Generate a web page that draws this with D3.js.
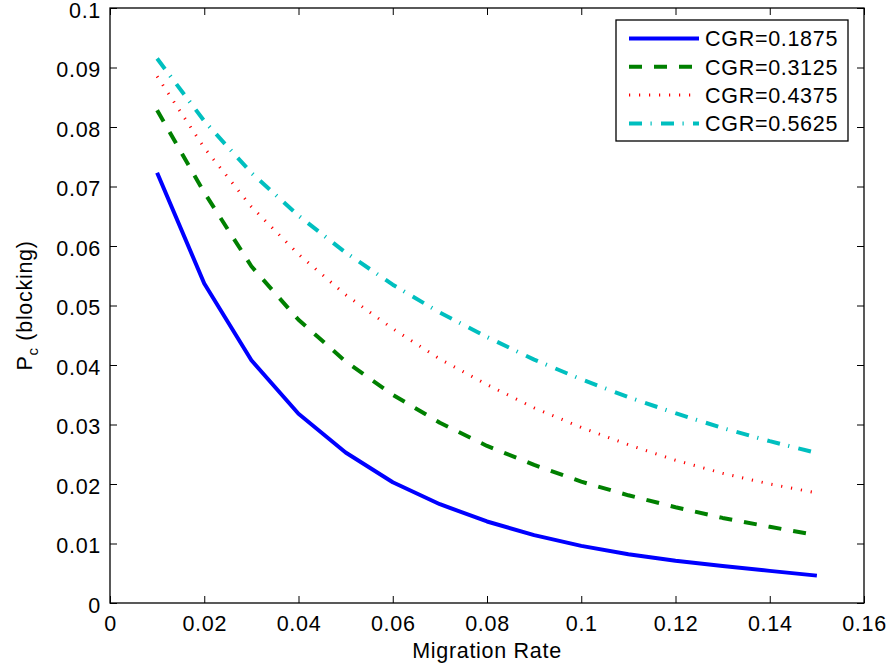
<!DOCTYPE html>
<html>
<head>
<meta charset="utf-8">
<script src="https://cdn.jsdelivr.net/npm/d3@7"></script>
<style>
  body { margin: 0; background: #fff; }
  svg { font-family: "Liberation Sans", Arial, sans-serif; }
</style>
</head>
<body>
<div id="chart"></div>
<script>
// migration rate (x) and blocking probability for each CGR
const rates = [0.01, 0.02, 0.03, 0.04, 0.05, 0.06, 0.07, 0.08, 0.09, 0.10, 0.11, 0.12, 0.13, 0.14, 0.15]
const cgr1875 = [0.0723, 0.0537, 0.0408, 0.0318, 0.0253, 0.0203, 0.0166, 0.0137, 0.0114, 0.0096, 0.0082, 0.0071, 0.0062, 0.0054, 0.0046]
const cgr3125 = [0.0828, 0.0690, 0.0566, 0.0476, 0.0406, 0.0350, 0.0303, 0.0264, 0.0232, 0.0204, 0.0181, 0.0161, 0.0143, 0.0128, 0.0114]
const cgr4375 = [0.0885, 0.0765, 0.0666, 0.0586, 0.0518, 0.0461, 0.0410, 0.0367, 0.0328, 0.0295, 0.0266, 0.0240, 0.0218, 0.0200, 0.0185]
const cgr5625 = [0.0915, 0.0810, 0.0723, 0.0651, 0.0589, 0.0535, 0.0488, 0.0447, 0.0409, 0.0376, 0.0346, 0.0319, 0.0294, 0.0272, 0.0252]
const seriesNames = ["CGR=0.1875", "CGR=0.3125", "CGR=0.4375", "CGR=0.5625"]
const xTicks = [0, 0.02, 0.04, 0.06, 0.08, 0.1, 0.12, 0.14, 0.16]
const yTicks = [0, 0.01, 0.02, 0.03, 0.04, 0.05, 0.06, 0.07, 0.08, 0.09, 0.1]

const styles = [
    {color: "#0000ff", width: 4, dash: null},
    {color: "#008000", width: 4, dash: "13,12"},
    {color: "#ff0000", width: 3, dash: "1.2,8.8"},
    {color: "#00bfbf", width: 4, dash: "13,8.5,1.2,9.3"}
]

const W = 891, H = 671
const margin = {left: 110, right: 27, top: 8, bottom: 68}
const fontSize = 21.5
const spacing = "0.7px"

let svg = d3.select("#chart").append("svg")
    .attr("width", W)
    .attr("height", H)

let x = d3.scaleLinear().domain([0, 0.16]).range([margin.left, W - margin.right])
let y = d3.scaleLinear().domain([0, 0.1]).range([H - margin.bottom, margin.top])

let series = [cgr1875, cgr3125, cgr4375, cgr5625].map((vals, i) => ({
    name: seriesNames[i],
    style: styles[i],
    points: rates.map((r, j) => [r, vals[j]])
}))

// axes: MATLAB style, ticks pointing inward on all four sides
let tickLen = 7
let fmt = d => String(+d.toFixed(2))
let xAxisB = d3.axisBottom(x).tickValues(xTicks).tickSize(-tickLen).tickPadding(13).tickFormat(fmt)
let xAxisT = d3.axisTop(x).tickValues(xTicks).tickSize(-tickLen).tickFormat("")
let yAxisL = d3.axisLeft(y).tickValues(yTicks).tickSize(-tickLen).tickPadding(9).tickFormat(fmt)
let yAxisR = d3.axisRight(y).tickValues(yTicks).tickSize(-tickLen).tickFormat("")

function styleAxis(g) {
    g.select(".domain").remove()
    g.selectAll(".tick line").attr("stroke", "#000").attr("stroke-width", 1)
    g.selectAll(".tick text").attr("fill", "#000").attr("font-size", fontSize)
        .attr("letter-spacing", spacing)
        .attr("font-family", "Liberation Sans, Arial, sans-serif")
}

svg.append("g").attr("transform", "translate(0," + y(0) + ")").call(xAxisB).call(styleAxis)
svg.append("g").attr("transform", "translate(0," + y(0.1) + ")").call(xAxisT).call(styleAxis)
let gy = svg.append("g").attr("transform", "translate(" + x(0) + ",0)").call(yAxisL).call(styleAxis)
svg.append("g").attr("transform", "translate(" + x(0.16) + ",0)").call(yAxisR).call(styleAxis)
gy.selectAll(".tick text").attr("dy", "0.42em")

// the box
svg.append("rect")
    .attr("x", x(0))
    .attr("y", y(0.1))
    .attr("width", x(0.16) - x(0))
    .attr("height", y(0) - y(0.1))
    .attr("fill", "none")
    .attr("stroke", "#000")
    .attr("stroke-width", 1.3)

let line = d3.line().x(d => x(d[0])).y(d => y(d[1]))

svg.append("g").attr("class", "lines")
    .selectAll("path")
    .data(series)
    .join("path")
    .attr("d", d => line(d.points))
    .attr("fill", "none")
    .attr("stroke", d => d.style.color)
    .attr("stroke-width", d => d.style.width)
    .attr("stroke-dasharray", d => d.style.dash)
    .attr("stroke-linejoin", "round")

// axis labels
svg.append("text")
    .attr("x", (x(0) + x(0.16)) / 2)
    .attr("y", 658)
    .attr("text-anchor", "middle")
    .attr("font-size", fontSize)
    .attr("letter-spacing", spacing)
    .text("Migration Rate")

let yl = svg.append("text")
    .attr("transform", "translate(32," + (y(0) + y(0.1)) / 2 + ") rotate(-90)")
    .attr("text-anchor", "middle")
    .attr("font-size", fontSize)
    .attr("letter-spacing", spacing)
yl.append("tspan").text("P")
yl.append("tspan").attr("font-size", 15).attr("dy", 6).text("c")
yl.append("tspan").attr("dy", -6).text(" (blocking)")

// legend
let leg = svg.append("g").attr("class", "legend")
leg.append("rect")
    .attr("x", 616)
    .attr("y", 20)
    .attr("width", 232)
    .attr("height", 121)
    .attr("fill", "#fff")
    .attr("stroke", "#000")
    .attr("stroke-width", 1.3)

let rows = leg.selectAll("g.row")
    .data(series)
    .join("g")
    .attr("class", "row")
    .attr("transform", (d, i) => "translate(0," + (38.5 + i * 28.3) + ")")

rows.append("line")
    .attr("x1", 629)
    .attr("x2", 699)
    .attr("stroke", d => d.style.color)
    .attr("stroke-width", d => d.style.width)
    .attr("stroke-dasharray", d => d.style.dash)

rows.append("text")
    .attr("x", 705)
    .attr("dy", "0.36em")
    .attr("font-size", fontSize)
    .attr("letter-spacing", spacing)
    .text(d => d.name)
</script>
</body>
</html>
